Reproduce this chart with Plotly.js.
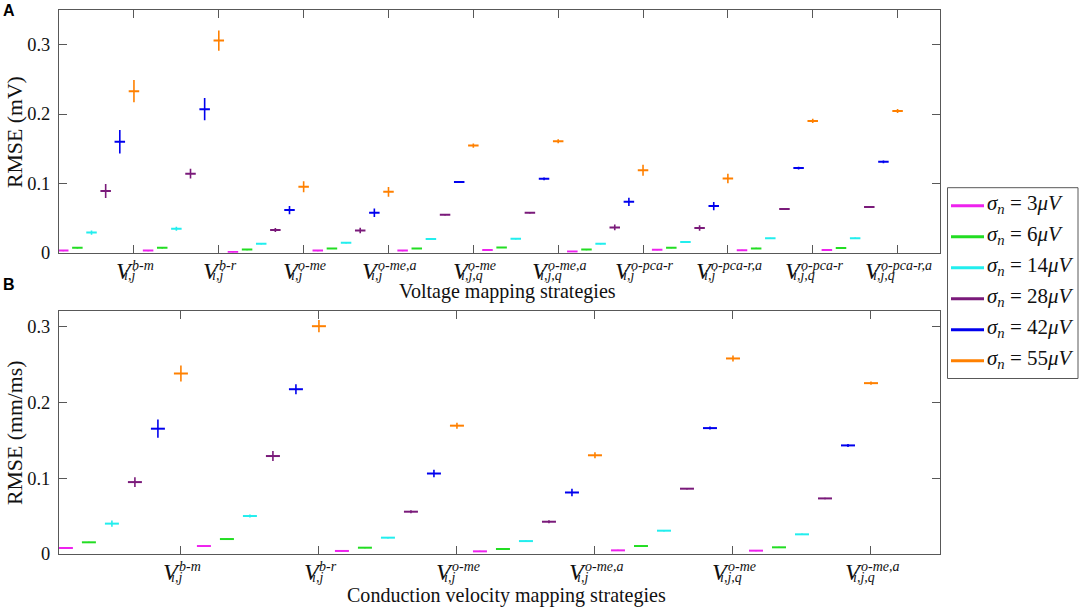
<!DOCTYPE html>
<html><head><meta charset="utf-8">
<script src="https://cdn.plot.ly/plotly-3.0.1.min.js"></script>
<style>html,body{margin:0;padding:0;background:#fff}#plot{width:1084px;height:611px}</style>
</head><body><div id="plot"></div>
<script>
// ---------- data ----------
const sigmaLabels = ['3', '6', '14', '28', '42', '55'];
const seriesColors = ['#ee22ee', '#22dd22', '#22eeee', '#7a1a7a', '#0000ee', '#ff8000'];

const topSup = ['b-m','b-r','o-me','o-me,a','o-me','o-me,a','o-pca-r','o-pca-r,a','o-pca-r','o-pca-r,a'];
const topSub = ['i,j','i,j','i,j','i,j','i,j,q','i,j,q','i,j','i,j','i,j,q','i,j,q'];
const botSup = ['b-m','b-r','o-me','o-me,a','o-me','o-me,a'];
const botSub = ['i,j','i,j','i,j','i,j','i,j,q','i,j,q'];
const yTickVals = [0, 0.1, 0.2, 0.3];
const yTickText = ['0', '0.1', '0.2', '0.3'];

// Voltage RMSE (mV)
const topS3  = [0.003,0.003,0.001,0.003,0.003,0.004,0.0017,0.0043,0.0034,0.004];
const topS6  = [0.007,0.007,0.0045,0.006,0.006,0.0075,0.0045,0.0072,0.0062,0.0067];
const topS14 = [0.029,0.0345,0.013,0.0144,0.0197,0.020,0.013,0.0154,0.0207,0.021];
const topS28 = [0.089,0.114,0.0327,0.032,0.0547,0.0576,0.0365,0.0355,0.063,0.066];
const topS42 = [0.160,0.207,0.0614,0.0576,0.102,0.1065,0.0734,0.0672,0.122,0.131];
const topS55 = [0.233,0.306,0.095,0.0878,0.1545,0.1607,0.119,0.107,0.190,0.2043];
const topE3  = [0.0008,0.0008,0.0008,0.0008,0.0008,0.0008,0.0008,0.0008,0.0008,0.0008];
const topE6  = [0.0008,0.0008,0.0008,0.0008,0.0008,0.0008,0.0008,0.0008,0.0008,0.0008];
const topE14 = [0.003,0.003,0.001,0.001,0.001,0.001,0.001,0.001,0.001,0.001];
const topE28 = [0.010,0.007,0.003,0.004,0.001,0.001,0.004,0.004,0.001,0.001];
const topE42 = [0.017,0.016,0.006,0.006,0.0015,0.002,0.006,0.006,0.002,0.002];
const topE55 = [0.016,0.0146,0.008,0.007,0.003,0.003,0.008,0.007,0.003,0.003];

// Conduction velocity RMSE (mm/ms)
const botS3  = [0.0079,0.0105,0.004,0.0035,0.0048,0.0044];
const botS6  = [0.0154,0.0197,0.0083,0.0066,0.0105,0.0088];
const botS14 = [0.040,0.050,0.0215,0.017,0.0307,0.0259];
const botS28 = [0.0947,0.129,0.0557,0.0425,0.086,0.0732];
const botS42 = [0.165,0.217,0.106,0.081,0.1658,0.143];
const botS55 = [0.2377,0.300,0.169,0.130,0.2575,0.225];
const botE3  = [0.0008,0.0008,0.0008,0.0008,0.0008,0.0008];
const botE6  = [0.0008,0.0008,0.0008,0.0008,0.0008,0.0008];
const botE14 = [0.004,0.002,0.001,0.001,0.001,0.001];
const botE28 = [0.0065,0.0066,0.002,0.002,0.001,0.001];
const botE42 = [0.012,0.0066,0.005,0.005,0.002,0.002];
const botE55 = [0.0105,0.008,0.004,0.004,0.004,0.002];

const topVals = [topS3, topS6, topS14, topS28, topS42, topS55];
const topErrs = [topE3, topE6, topE14, topE28, topE42, topE55];
const botVals = [botS3, botS6, botS14, botS28, botS42, botS55];
const botErrs = [botE3, botE6, botE14, botE28, botE42, botE55];

// ---------- layout ----------
const W = 1084, H = 611;
const MR = 144;               // right margin reserved for the legend
const PW = W - MR;            // plot-area width (paper)
const SERIF = '"Liberation Serif", "Times New Roman", serif';
const axL = 59, axR = 940;
const topT = 10, topB = 252.7, botT = 311, botB = 554;
const AX = '#585858';
const TXT = '#111';
const px = v => v / PW;            // horizontal pixel -> paper fraction
const py = v => 1 - v / H;         // vertical pixel -> paper fraction

const cnv = document.createElement('canvas');
const ctx = cnv.getContext('2d');
function measure(t, size, italic) {
  ctx.font = (italic ? 'italic ' : '') + size + 'px ' + SERIF;
  return ctx.measureText(t).width;
}
function fitSize(t, target, italic) { return 100 * target / measure(t, 100, italic); }

const traces = [];
function addPanel(vals, errs, xa, ya, msize) {
  vals.forEach((arr, i) => {
    const xs = arr.map((_, k) => 6 * k + i + 1);
    traces.push({
      type: 'scatter', mode: 'markers', x: xs, y: arr, xaxis: xa, yaxis: ya,
      name: 'σn = ' + sigmaLabels[i] + 'μV',
      showlegend: false, hoverinfo: 'skip',
      marker: { symbol: 'line-ew', size: msize, color: seriesColors[i],
                line: { color: seriesColors[i], width: 2 } },
      error_y: { type: 'data', array: errs[i], visible: true, color: seriesColors[i],
                 thickness: 1.6, width: 0 }
    });
  });
}
addPanel(topVals, topErrs, 'x', 'y', 7.5);
addPanel(botVals, botErrs, 'x2', 'y2', 10);

const tickSize = fitSize('0.3', 23, false);
const axisCommon = {
  showgrid: false, zeroline: false, showline: true, linecolor: AX, linewidth: 1,
  ticks: 'inside', ticklen: 8, tickcolor: AX, tickwidth: 1, mirror: 'ticks'
};
const yTickFont = { family: SERIF, size: tickSize, color: TXT };

const layout = {
  width: W, height: H, margin: { l: 0, r: MR, t: 0, b: 0, autoexpand: false },
  paper_bgcolor: '#fff', plot_bgcolor: '#fff',
  showlegend: false,
  xaxis: Object.assign({}, axisCommon, {
    domain: [px(axL), px(axR)], range: [0.7, 63], anchor: 'y',
    tickvals: [6,12,18,24,30,36,42,48,54,60], showticklabels: false
  }),
  yaxis: Object.assign({}, axisCommon, {
    domain: [py(topB), py(topT)], range: [0, 0.35], anchor: 'x',
    tickvals: yTickVals, ticktext: yTickText, tickfont: yTickFont, ticklabelstandoff: 4
  }),
  xaxis2: Object.assign({}, axisCommon, {
    domain: [px(axL), px(axR)], range: [0.7, 39], anchor: 'y2',
    tickvals: [6,12,18,24,30,36], showticklabels: false
  }),
  yaxis2: Object.assign({}, axisCommon, {
    domain: [py(botB), py(botT)], range: [0, 0.32], anchor: 'x2',
    tickvals: yTickVals, ticktext: yTickText, tickfont: yTickFont, ticklabelstandoff: 4
  }),
  shapes: [],
  annotations: []
};

// ---------- legend (box, colour lines, labels) ----------
const LG = { left: 947.5, right: 1078, top: 187.7, bottom: 378.5, row0: 205.7, step: 31,
             lx0: 951, lx1: 984, tx: 986 };
layout.shapes.push({ type: 'rect', xref: 'paper', yref: 'paper',
  x0: px(LG.left), x1: px(LG.right), y0: py(LG.bottom), y1: py(LG.top),
  line: { color: AX, width: 1 }, fillcolor: 'rgba(0,0,0,0)' });
sigmaLabels.forEach((s, i) => {
  const yy = LG.row0 + LG.step * i;
  layout.shapes.push({ type: 'line', xref: 'paper', yref: 'paper',
    x0: px(LG.lx0), x1: px(LG.lx1), y0: py(yy), y1: py(yy),
    line: { color: seriesColors[i], width: 3 } });
  layout.annotations.push({ xref: 'paper', yref: 'paper', x: px(LG.tx), y: py(yy),
    xanchor: 'left', yanchor: 'middle', showarrow: false, borderpad: 0, yshift: 2,
    text: '<i>σ</i><sub><i>n</i></sub> = ' + s + '<i>μV</i>',
    font: { family: SERIF, size: 21, color: TXT } });
});

// ---------- tick labels: V with stacked super/subscripts ----------
const VS = 24, SS = 14;
function addTickLabels(sups, subs, xref, bottomPx) {
  const yp = py(bottomPx);
  sups.forEach((sup, k) => {
    const xv = 6 * (k + 1);
    const wv = measure('V', VS, true) + 1, ws = measure(sup, SS, true), wb = measure(subs[k], SS, true);
    const total = wv + Math.max(ws, wb - 7.5);
    const left = -total / 2;
    const base = { xref: xref, yref: 'paper', x: xv, y: yp, showarrow: false,
                   xanchor: 'left', yanchor: 'middle', borderpad: 0 };
    layout.annotations.push(Object.assign({}, base, {
      text: '<i>V</i>', xshift: left, yshift: -18,
      font: { family: SERIF, size: VS, color: TXT } }));
    layout.annotations.push(Object.assign({}, base, {
      text: '<i>' + sup + '</i>', xshift: left + wv, yshift: -12.5,
      font: { family: SERIF, size: SS, color: TXT } }));
    layout.annotations.push(Object.assign({}, base, {
      text: '<i>' + subs[k] + '</i>', xshift: left + wv - 7.5, yshift: -23,
      font: { family: SERIF, size: SS, color: TXT } }));
  });
}
addTickLabels(topSup, topSub, 'x', topB);
addTickLabels(botSup, botSub, 'x2', botB);

// ---------- axis titles and panel letters ----------
const t1 = 'Voltage mapping strategies', t2 = 'Conduction velocity mapping strategies';
const y1 = 'RMSE (mV)', y2 = 'RMSE (mm/ms)';
const xtSize = (fitSize(t1, 214, false) + fitSize(t2, 323, false)) / 2;
const ytSize = (fitSize(y1, 110, false) + fitSize(y2, 147, false)) / 2;
const sans = '"Liberation Sans", Arial, sans-serif';
layout.annotations.push(
  { xref: 'paper', yref: 'paper', x: px(507), y: py(291), text: t1,
    showarrow: false, xanchor: 'center', yanchor: 'middle', font: { family: SERIF, size: xtSize, color: TXT } },
  { xref: 'paper', yref: 'paper', x: px(506), y: py(595), text: t2,
    showarrow: false, xanchor: 'center', yanchor: 'middle', font: { family: SERIF, size: xtSize, color: TXT } },
  { xref: 'paper', yref: 'paper', x: px(15), y: py(132), text: y1, textangle: -90,
    showarrow: false, xanchor: 'center', yanchor: 'middle', font: { family: SERIF, size: ytSize, color: TXT } },
  { xref: 'paper', yref: 'paper', x: px(15), y: py(433), text: y2, textangle: -90,
    showarrow: false, xanchor: 'center', yanchor: 'middle', font: { family: SERIF, size: ytSize, color: TXT } },
  { xref: 'paper', yref: 'paper', x: px(9), y: py(10), text: '<b>A</b>',
    showarrow: false, xanchor: 'center', yanchor: 'middle', font: { family: sans, size: 16, color: '#000' } },
  { xref: 'paper', yref: 'paper', x: px(9), y: py(284), text: '<b>B</b>',
    showarrow: false, xanchor: 'center', yanchor: 'middle', font: { family: sans, size: 16, color: '#000' } }
);

Plotly.newPlot('plot', traces, layout, { displayModeBar: false, staticPlot: true });
</script></body></html>
